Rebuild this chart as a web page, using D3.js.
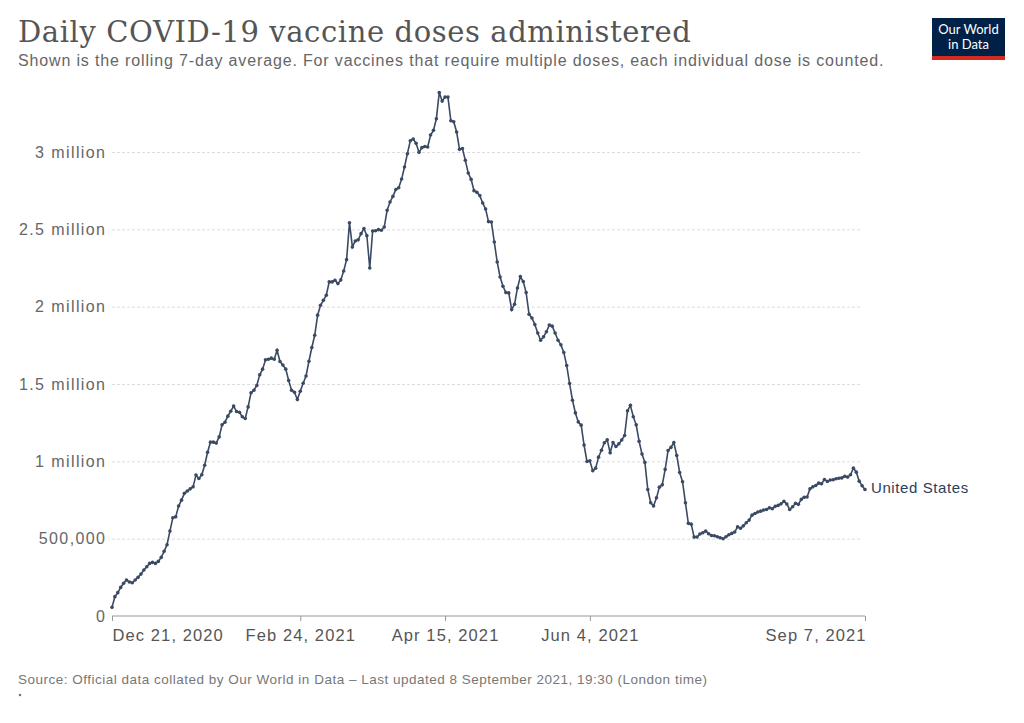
<!DOCTYPE html>
<html><head><meta charset="utf-8">
<script src="https://cdn.jsdelivr.net/npm/d3@7"></script>
<style>body{margin:0;background:#fff;}svg{display:block;}</style>
</head><body>
<script>
const startDate = "2020-12-21";
// Daily doses, rolling 7-day average (thousands), one value per day from Dec 21, 2020 to Sep 7, 2021
const dosesK = [56,125,151,185,211,233,220,215,233,250,271,297,318,340,347,340,353,379,418,461,
549,635,641,711,749,793,808,822,835,911,889,913,975,1059,1124,1124,1118,1158,1236,1253,
1292,1324,1357,1322,1317,1288,1277,1352,1443,1460,1490,1559,1596,1656,1660,1667,1660,1718,1645,1623,
1596,1523,1460,1447,1400,1453,1505,1552,1647,1736,1815,1945,2009,2041,2074,2160,2160,2171,2149,2173,
2231,2304,2543,2386,2425,2432,2472,2505,2459,2250,2489,2491,2498,2494,2515,2623,2677,2713,2758,2769,
2825,2903,2989,3073,3084,3056,2998,3028,3036,3032,3110,3140,3215,3385,3329,3355,3355,3202,3196,3129,
3017,3023,2946,2864,2823,2750,2739,2718,2670,2631,2550,2547,2418,2289,2192,2132,2091,2089,1981,2016,
2121,2195,2162,2091,1951,1927,1884,1830,1783,1805,1838,1881,1874,1830,1783,1753,1704,1620,1503,1395,
1313,1255,1234,1105,999,1003,939,956,1027,1072,1120,1139,1055,1121,1096,1113,1138,1167,1327,1362,
1288,1236,1130,1047,993,818,732,711,764,833,848,948,1070,1090,1122,1038,928,868,732,599,
594,510,511,530,538,549,532,520,519,512,506,499,512,525,534,543,577,567,583,603,
620,652,663,672,678,685,689,700,693,709,715,725,741,724,689,706,728,722,754,767,
769,822,835,844,859,855,883,870,879,881,887,891,893,904,898,913,956,930,872,842,818];
const seriesName = "United States";
const xTickDates = ["2020-12-21","2021-02-24","2021-04-15","2021-06-04","2021-09-07"];
const xTickLabels = ["Dec 21, 2020","Feb 24, 2021","Apr 15, 2021","Jun 4, 2021","Sep 7, 2021"];
const yTickValues = [0,500000,1000000,1500000,2000000,2500000,3000000];
const yTickLabels = ["0","500,000","1 million","1.5 million","2 million","2.5 million","3 million"];
const titleText = "Daily COVID-19 vaccine doses administered";
const subtitleText = "Shown is the rolling 7-day average. For vaccines that require multiple doses, each individual dose is counted.";
const sourceText = "Source: Official data collated by Our World in Data – Last updated 8 September 2021, 19:30 (London time)";

const W = 1024, H = 723;
const parse = d3.utcParse("%Y-%m-%d");
const t0 = parse(startDate);
const data = dosesK.map((v, i) => ({date: d3.utcDay.offset(t0, i), value: v * 1000}));

const svg = d3.select("body").append("svg").attr("width", W).attr("height", H)
  .style("font-family", "'Liberation Sans', Arial, sans-serif");

const x = d3.scaleUtc().domain([t0, data[data.length-1].date]).range([112, 865]);
const y = d3.scaleLinear().domain([0, 3000000]).range([616, 152]);

// Title & subtitle
svg.append("text").attr("x", 18).attr("y", 42).text(titleText)
  .style("font-family", "'DejaVu Serif', Georgia, serif").style("font-size", "29px")
  .style("letter-spacing", "0.6px").attr("fill", "#555");
svg.append("text").attr("x", 18).attr("y", 66).text(subtitleText)
  .style("font-size", "16px").style("letter-spacing", "0.85px").attr("fill", "#666");

// Logo
const logo = svg.append("g").attr("transform", "translate(932,18)");
logo.append("rect").attr("width", 73).attr("height", 42).attr("fill", "#002147");
logo.append("rect").attr("y", 38).attr("width", 73).attr("height", 4).attr("fill", "#d42b21");
logo.append("text").attr("x", 36.5).attr("y", 16).attr("text-anchor", "middle").text("Our World")
  .style("font-family", "Lato, sans-serif").style("font-size", "13px").attr("fill", "#fff");
logo.append("text").attr("x", 36.5).attr("y", 31).attr("text-anchor", "middle").text("in Data")
  .style("font-family", "Lato, sans-serif").style("font-size", "13px").attr("fill", "#fff");

// Gridlines + y labels
const yAxis = d3.axisLeft(y).tickValues(yTickValues)
  .tickFormat((d, i) => yTickLabels[i]).tickSize(-750).tickPadding(7);
const gy = svg.append("g").attr("transform", "translate(112,0)").call(yAxis);
gy.select(".domain").remove();
gy.selectAll(".tick line").attr("stroke", "#ddd").attr("stroke-dasharray", "3,2")
  .attr("x1", 0).attr("x2", 750)
  .filter(d => d === 0).remove();
gy.selectAll(".tick text").attr("fill", "#666").style("font-size", "16px")
  .style("letter-spacing", "1.4px")
  .style("font-family", "'Liberation Sans', Arial, sans-serif").attr("x", -5.6);

// X axis
const xt = xTickDates.map(parse);
const xAxis = d3.axisBottom(x).tickValues(xt).tickFormat((d, i) => xTickLabels[i]).tickSize(5).tickPadding(8);
const gx = svg.append("g").attr("transform", "translate(0,616)").call(xAxis);
gx.select(".domain").attr("stroke", "#999").attr("d", "M112,0H865");
gx.selectAll(".tick line").attr("stroke", "#999");
gx.selectAll(".tick text").attr("fill", "#555").style("font-size", "16.5px")
  .style("letter-spacing", "1.1px")
  .style("font-family", "'Liberation Sans', Arial, sans-serif")
  .attr("text-anchor", (d, i) => i === 0 ? "start" : (i === xt.length - 1 ? "end" : "middle"))
  .attr("dx", (d, i) => i === xt.length - 1 ? 1.1 : 0);

// Line
const lineColor = "#3b4a63";
svg.append("path").datum(data)
  .attr("d", d3.line().x(d => x(d.date)).y(d => y(d.value)))
  .attr("fill", "none").attr("stroke", lineColor).attr("stroke-width", 1.6);
svg.append("g").selectAll("circle").data(data).join("circle")
  .attr("cx", d => x(d.date)).attr("cy", d => y(d.value)).attr("r", 1.8).attr("fill", lineColor);

// Series label
const last = data[data.length - 1];
svg.append("text").attr("x", x(last.date) + 6).attr("y", y(last.value) + 4).text(seriesName)
  .style("font-size", "15px").style("letter-spacing", "0.6px").attr("fill", "#2d3e5a");

// Footer
svg.append("text").attr("x", 18).attr("y", 684).text(sourceText)
  .style("font-size", "13.5px").style("letter-spacing", "0.5px").attr("fill", "#777");
svg.append("circle").attr("cx", 20).attr("cy", 695).attr("r", 1.3).attr("fill", "#777");
</script>
</body></html>
